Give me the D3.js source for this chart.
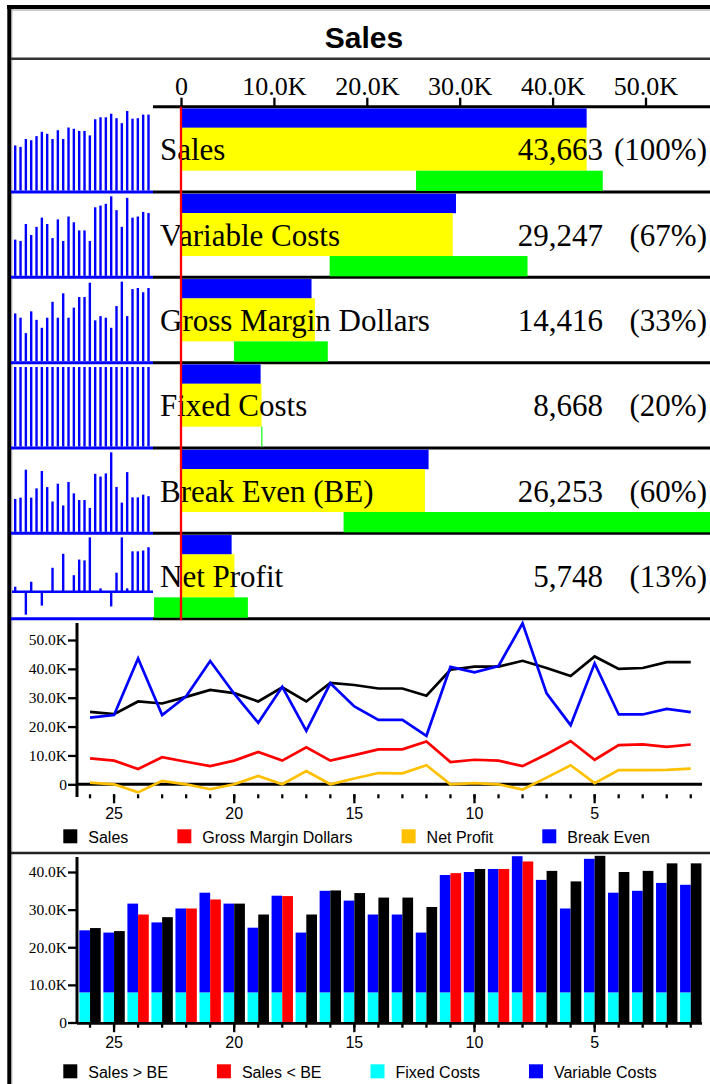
<!DOCTYPE html>
<html lang="en">
<head>
	<meta charset="UTF-8">
	<title>Sales</title>
	<style>
		body { margin: 0; background: #fff; }
	</style>
</head>
<body>
</body>
<script src="https://d3js.org/d3.v7.min.js"></script>
<script>
	// daily data, oldest day (26) first
	var days = [26, 25, 24, 23, 22, 21, 20, 19, 18, 17, 16, 15, 14, 13, 12, 11, 10, 9, 8, 7, 6, 5, 4, 3, 2, 1];
	var sales = [25100, 24300, 28700, 28000, 30300, 32700, 31600, 28700, 33600, 28700, 35100, 34400, 33200, 33200, 30700, 39700, 40800, 40800, 42800, 40300, 37500, 44300, 40000, 40300, 42300, 42300];
	var variableCosts = [16500, 15900, 23600, 18600, 22300, 26500, 23600, 17200, 25700, 15900, 27000, 24400, 20700, 20700, 15900, 31200, 32000, 32800, 36200, 29900, 22300, 35500, 26500, 27000, 29100, 28600];
	var fixedCosts = [8000, 8000, 8000, 8000, 8000, 8000, 8000, 8000, 8000, 8000, 8000, 8000, 8000, 8000, 8000, 8000, 8000, 8000, 8000, 8000, 8000, 8000, 8000, 8000, 8000, 8000];
	var grossMargin = [9000, 8200, 5300, 9400, 7800, 6300, 8200, 11200, 8200, 12800, 8200, 10100, 12100, 12100, 14800, 7700, 8500, 8200, 6300, 10400, 15000, 8500, 13600, 13800, 13000, 13800];
	var netProfit = [600, 0, -2800, 1200, 0, -1700, 0, 2900, 0, 4600, 0, 2000, 3900, 3800, 6600, 0, 400, 0, -1800, 2300, 6600, 400, 4900, 4900, 5000, 5400];
	var breakEven = [23100, 24000, 43600, 24000, 30500, 42700, 31400, 21300, 33800, 18500, 35000, 27000, 22300, 22300, 16800, 40700, 38800, 41000, 55800, 31500, 20500, 41900, 24200, 24200, 26100, 25000];

	// summary rows
	var measures = ["Sales", "Variable Costs", "Gross Margin Dollars", "Fixed Costs", "Break Even (BE)", "Net Profit"];
	var totals = [43663, 29247, 14416, 8668, 26253, 5748];
	var priorTotals = [43663, 29600, 14050, 8570, 26650, 5450];
	var rangeLow = [25300, 16000, 5700, 8640, 17500, -2900];
	var rangeHigh = [45400, 37300, 15800, 8760, 57500, 7200];
	var sparkSeries = [sales, variableCosts, grossMargin, fixedCosts, breakEven, netProfit];

	var topTicks = [0, 10000, 20000, 30000, 40000, 50000];
	var lineTicks = [0, 10000, 20000, 30000, 40000, 50000];
	var barTicks = [0, 10000, 20000, 30000, 40000];
	var majorDays = [25, 20, 15, 10, 5];

	var serif = "'Liberation Serif', 'Times New Roman', serif";
	var sans = "'Liberation Sans', Arial, sans-serif";
	var width = 710, height = 1084;
	var fmtK = d => d === 0 ? "0" : d3.format(".1f")(d / 1000) + "K";

	var svg = d3.select("body").append("svg")
		.attr("width", width)
		.attr("height", height)
		.style("display", "block");

	function hline(x1, x2, y, color, w) {
		svg.append("line").attr("x1", x1).attr("x2", x2).attr("y1", y).attr("y2", y)
			.attr("stroke", color).attr("stroke-width", w);
	}
	function vline(x, y1, y2, color, w) {
		svg.append("line").attr("x1", x).attr("x2", x).attr("y1", y1).attr("y2", y2)
			.attr("stroke", color).attr("stroke-width", w);
	}

	// frame + title
	hline(7, width, 7, "#000", 4);
	hline(11, width, 10, "#999", 1);
	vline(9.3, 5, height, "#000", 4);
	vline(11.8, 9, height, "#999", 1);

	svg.append("text")
		.attr("x", 364).attr("y", 48)
		.attr("text-anchor", "middle")
		.attr("font-family", sans).attr("font-weight", "bold").attr("font-size", 30)
		.text("Sales");
	hline(11, width, 58.7, "#333", 2.5);

	// ---- summary rows ----
	var rowH = 85.33, rowTop0 = 106.7;
	var x = d3.scaleLinear().domain([0, 50000]).range([181, 645.5]);
	var xs = d3.scalePoint().domain(days).range([15.2, 148.5]);

	for (var i = 0; i <= measures.length; i++) {
		var yy = rowTop0 + i * rowH;
		hline(153, width, yy, "#000", 3);
		if (i > 0) hline(11, 153, yy, "#0000ff", 3);
	}

	var topAxis = svg.append("g")
		.attr("transform", `translate(0,${rowTop0})`)
		.call(d3.axisTop(x).tickValues(topTicks).tickSize(9).tickPadding(3).tickFormat(fmtK));
	topAxis.select(".domain").remove();
	topAxis.selectAll("line").attr("stroke-width", 2);
	topAxis.selectAll("text").attr("font-family", serif).attr("font-size", 26);

	measures.forEach(function(name, i) {
		var top = rowTop0 + i * rowH;
		var bottom = top + rowH;
		var g = svg.append("g");

		g.append("rect").attr("x", x(0)).attr("y", top + 1.7)
			.attr("width", x(priorTotals[i]) - x(0)).attr("height", 19.5).attr("fill", "#0000ff");
		g.append("rect").attr("x", x(0)).attr("y", top + 21)
			.attr("width", x(totals[i]) - x(0)).attr("height", 43).attr("fill", "#ffff00");
		g.append("rect").attr("x", x(rangeLow[i])).attr("y", top + 64)
			.attr("width", x(rangeHigh[i]) - x(rangeLow[i])).attr("height", 20.3).attr("fill", "#00ff00");

		g.append("text").attr("x", 160).attr("y", top + 53.5)
			.attr("font-family", serif).attr("font-size", 31).text(name);
		g.append("text").attr("x", 603).attr("y", top + 53.5).attr("text-anchor", "end")
			.attr("font-family", serif).attr("font-size", 31).text(d3.format(",")(totals[i]));
		g.append("text").attr("x", 707).attr("y", top + 53.5).attr("text-anchor", "end")
			.attr("font-family", serif).attr("font-size", 31)
			.text("(" + Math.round(totals[i] / totals[0] * 100) + "%)");

		// sparkline
		var vals = sparkSeries[i];
		var lo = Math.min(0, d3.min(vals));
		var ys = d3.scaleLinear().domain([lo, d3.max(vals)])
			.range(lo < 0 ? [bottom - 4, top + 4] : [bottom - 1.5, top + 4.3]);
		g.selectAll(".spark").data(vals).join("rect")
			.attr("x", (d, j) => xs(days[j]) - 1.2)
			.attr("width", 2.4)
			.attr("y", d => Math.min(ys(d), ys(0)))
			.attr("height", d => Math.abs(ys(d) - ys(0)))
			.attr("fill", "#0000ff");
		if (lo < 0) {
			g.append("line").attr("x1", 12).attr("x2", 153).attr("y1", ys(0)).attr("y2", ys(0))
				.attr("stroke", "#0000ff").attr("stroke-width", 2.5);
		}
	});

	vline(x(0), rowTop0, rowTop0 + 6 * rowH + 1.5, "#ff0000", 2.3);

	// shared day scale for the two lower charts
	var xb = d3.scaleBand().domain(days).range([76.7, 704.1]).padding(0.11);
	var xc = d => xb(d) + xb.bandwidth() / 2;

	function dayAxis(y0, minor, major, pad) {
		var gMin = svg.append("g").attr("transform", `translate(0,${y0})`)
			.call(d3.axisBottom(xb).tickValues(days).tickSize(minor).tickFormat(""));
		gMin.select(".domain").remove();
		var gMaj = svg.append("g").attr("transform", `translate(0,${y0})`)
			.call(d3.axisBottom(xb).tickValues(majorDays).tickSize(major).tickPadding(pad));
		gMaj.select(".domain").remove();
		svg.selectAll("g.tick line").attr("stroke-width", 2.3);
		gMaj.selectAll("text").attr("font-family", sans).attr("font-size", 16);
	}

	function legend(items, x0, yTop) {
		var cx = x0;
		items.forEach(function(it) {
			svg.append("rect").attr("x", cx).attr("y", yTop).attr("width", 14).attr("height", 14).attr("fill", it[1]);
			var t = svg.append("text").attr("x", cx + 25).attr("y", yTop + 13.4)
				.attr("font-family", sans).attr("font-size", 16).text(it[0]);
			cx = cx + 25 + t.node().getComputedTextLength() + 49;
		});
	}

	// ---- line chart ----
	var yl = d3.scaleLinear().domain([0, 50000]).range([784.3, 640]);
	var yAxisL = svg.append("g").attr("transform", "translate(77,0)")
		.call(d3.axisLeft(yl).tickValues(lineTicks).tickSize(9).tickPadding(1).tickFormat(fmtK));
	yAxisL.select(".domain").remove();
	yAxisL.selectAll("line").attr("stroke-width", 2.3);
	yAxisL.selectAll("text").attr("font-family", serif).attr("font-size", 15.5);
	vline(77, 623, 797, "#000", 3);
	hline(77, 702, yl(0), "#000", 3);
	dayAxis(794.3, 4, 9, 4.3);

	var lineGen = d3.line().x((d, j) => xc(days[j])).y(d => yl(d));
	[[sales, "#000000"], [grossMargin, "#ff0000"], [netProfit, "#ffc000"], [breakEven, "#0000ff"]].forEach(function(s) {
		svg.append("path").datum(s[0])
			.attr("d", lineGen)
			.attr("fill", "none")
			.attr("stroke", s[1])
			.attr("stroke-width", 2.7);
	});
	legend([["Sales", "#000"], ["Gross Margin Dollars", "#ff0000"], ["Net Profit", "#ffc000"], ["Break Even", "#0000ff"]], 63.3, 829.3);

	hline(11, width, 853, "#222", 2.5);

	// ---- bar chart ----
	var yb = d3.scaleLinear().domain([0, 40000]).range([1022.5, 872]);
	var sub = d3.scaleBand().domain(["cost", "sales"]).range([0, xb.bandwidth()]);
	var bars = svg.append("g");
	days.forEach(function(d, j) {
		var x0 = xb(d);
		bars.append("rect").attr("x", x0).attr("width", sub.bandwidth())
			.attr("y", yb(fixedCosts[j])).attr("height", yb(0) - yb(fixedCosts[j])).attr("fill", "#00ffff");
		bars.append("rect").attr("x", x0).attr("width", sub.bandwidth())
			.attr("y", yb(fixedCosts[j] + variableCosts[j]))
			.attr("height", yb(fixedCosts[j]) - yb(fixedCosts[j] + variableCosts[j])).attr("fill", "#0000ff");
		bars.append("rect").attr("x", x0 + sub("sales")).attr("width", sub.bandwidth())
			.attr("y", yb(sales[j])).attr("height", yb(0) - yb(sales[j]))
			.attr("fill", sales[j] < breakEven[j] ? "#ff0000" : "#000000");
	});
	var yAxisB = svg.append("g").attr("transform", "translate(77,0)")
		.call(d3.axisLeft(yb).tickValues(barTicks).tickSize(9).tickPadding(1).tickFormat(fmtK));
	yAxisB.select(".domain").remove();
	yAxisB.selectAll("line").attr("stroke-width", 2.3);
	yAxisB.selectAll("text").attr("font-family", serif).attr("font-size", 15.5);
	vline(77, 857, 1024, "#000", 3);
	hline(77, 702, 1023.3, "#000", 2.7);
	dayAxis(1023.7, 4, 8.5, 4.5);
	legend([["Sales > BE", "#000"], ["Sales < BE", "#ff0000"], ["Fixed Costs", "#00ffff"], ["Variable Costs", "#0000ff"]], 63.3, 1064.3);
</script>
</html>
